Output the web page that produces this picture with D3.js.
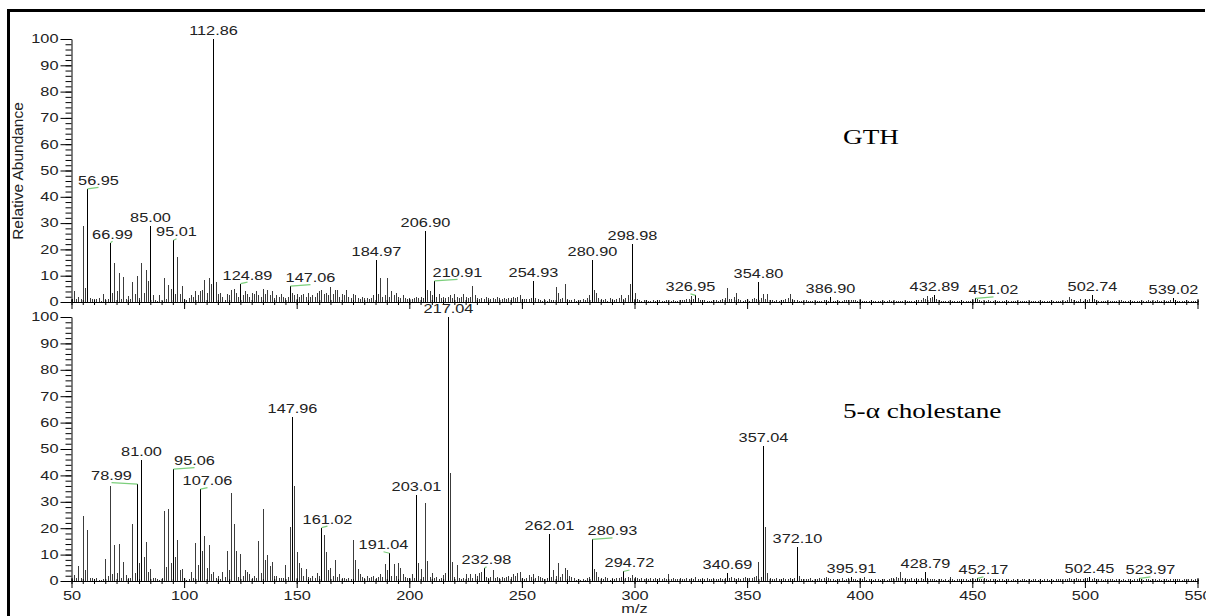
<!DOCTYPE html>
<html>
<head>
<meta charset="utf-8">
<script src="https://cdn.jsdelivr.net/npm/d3@7"></script>
<style>
  body { margin: 0; background: #fff; }
  svg { display: block; }
</style>
</head>
<body>
<div id="chart"></div>
<script>
// m/z axis runs in whole units from 50 to 550, one abundance per unit
var mzStart = 50;
var mzEnd = 550;

// GTH spectrum (relative abundance, %), m/z 50..550
var gthAbund = [
  1,4,1,2,1,29,5.5,43,1.5,1,
  1,1,1.5,0.5,3,1,1.2,22.5,3.5,15,
  4,11,1,9.5,1.2,2.2,1.2,7.5,3,10,
  1.5,15,3.5,12,8,29,2.5,0.8,0.5,2.5,
  0.5,9,1.2,6.5,5,23.5,3,17,3,6,
  1,0.8,1.5,2.5,2,4,2.5,4,4.5,8.5,
  3.5,9,7,100,7.5,3,3.5,2,0.8,3,
  2.5,4.5,5,3.5,2,7,2.5,4,3,2,
  3.5,3,4,2.5,2,5,3,4.5,2.5,4,
  1.5,2.5,2,3,2,1.5,2,6,3.5,2.5,
  3,2,2.5,3,2,3.5,2,2.5,2,3.5,
  4,4.5,3,3.5,2.5,5.7,3,4.5,4.5,2,
  3,2.5,4.5,2,1.5,3,2.5,1.5,1,2,
  1.5,1.5,1,1.5,2.5,16,3,9,2,2.5,
  9,2,4,2.5,3.5,2,1.5,2.5,1.5,1,
  1.5,1,1.5,2,1.5,2,1.5,27,4.5,4,
  2.5,8,2,3,1.5,2,1.5,2,2.5,1.5,
  3,2,1.5,2,3,2,1.5,2,6,2.5,
  1.5,1,1.5,1,2,1.5,1,1.5,1,2,
  1.5,1,1.5,1,1.5,1.5,2,1.5,2,2.5,
  1,1,1,1.2,1.5,8,1.5,1,0.6,0.5,
  1,0.5,1,0.7,0.8,5.8,3.6,1,1.5,6.7,
  1,0.8,0.6,1,0.5,0.5,0.8,1,0.6,1.5,
  2.5,16,4.6,3.4,1.5,1,0.8,1,0.5,1.5,
  1,0.6,1,1.5,2.8,1,1.5,2.8,7,22,
  3.4,1,0.8,0.5,0.6,0.6,0.4,0.5,0.6,0.4,
  0.5,0.6,0.4,0.5,0.6,0.5,0.4,0.6,0.5,0.5,
  0.7,0.6,0.8,1,1.2,2.4,1,2.5,1.5,0.8,
  0.5,0.6,0.4,0.5,0.5,0.6,0.8,0.5,0.6,1,
  1.5,5.5,1,1.2,2,3.6,1,0.8,0.5,0.6,
  0.7,0.5,1,1.5,1.2,7.6,1.5,3.1,1,3,
  0.8,0.6,0.5,0.6,0.5,0.7,0.8,1,1.5,3,
  1.2,0.8,0.6,0.5,0.4,0.5,0.6,0.4,0.5,0.3,
  0.4,0.5,0.3,0.4,0.6,0.5,0.4,1.8,0.5,0.3,
  0.4,0.3,0.5,0.6,0.7,0.6,0.8,0.7,0.6,0.5,
  0.6,0.5,0.4,0.3,0.4,0.3,0.4,0.5,0.3,0.4,
  0.3,0.4,0.5,0.8,0.4,0.3,0.4,0.3,0.5,0.4,
  0.3,0.4,0.3,0.5,0.4,0.6,0.8,0.6,1.5,1,
  2.2,1.5,2,2.5,1.2,0.6,0.4,0.5,0.3,0.4,
  0.3,0.4,0.3,0.5,0.4,0.3,0.4,0.3,0.3,0.4,
  0.5,1.4,1,0.6,0.4,0.5,0.3,0.8,0.4,0.3,
  0.4,0.3,0.4,0.3,0.5,0.3,0.4,0.3,0.3,0.4,
  0.3,0.4,0.3,0.3,0.4,0.3,0.4,0.3,0.4,0.3,
  0.3,0.4,0.3,0.4,0.3,0.3,0.4,0.3,0.4,0.3,
  0.4,0.5,0.6,1.8,1,0.6,0.4,0.5,1,0.5,
  0.4,0.6,1.2,2.8,1,0.5,0.4,0.3,0.4,0.3,
  0.3,0.4,0.3,0.4,0.3,0.4,0.7,0.3,0.4,0.3,
  0.3,0.4,0.3,0.3,0.4,0.3,0.4,0.3,0.8,0.4,
  0.3,0.4,0.7,0.3,0.4,0.3,0.4,0.5,0.6,1.5,
  0.8,0.4,0.3,0.4,0.3,0.8,0.3,0.4,0.3,0.4,
  0.3
];

// 5-alpha cholestane spectrum, m/z 50..550
var cholAbund = [
  0.5,2.3,1,5.8,1,24.6,4.2,19.3,1,1.2,
  0.8,1,0.5,0.3,0.8,8.3,2,36,2.5,13.6,
  3,13.9,1,7.3,2.2,1,1,21.6,3,36.7,
  7,45.8,9.2,14.7,3.4,4.7,1,1.2,0.8,0.5,
  1,26.5,5.4,27.1,6.7,42.4,9.2,15.5,4.3,4.5,
  1,0.5,0.8,3.5,1,14.3,6,34.8,11.2,17.2,
  4.8,13.7,2.5,3.4,1,2,0.8,3.5,1.5,11.5,
  4,33.5,21.6,11.2,1.5,10.4,2,4.2,3.5,2.5,
  1,2,1,15.2,3,27.2,7.8,9.8,5.6,7.2,
  2,2,1,1.2,1,6.2,1.5,20.6,62.2,36.1,
  11.1,7,5,2,4.5,1.5,1,2,1,3,
  2,20.2,17.4,11.1,4,5,2,7.8,1.5,2.8,
  1,1,0.8,1,0.8,15.5,7.8,4.7,2.5,1.5,
  1,2,1,1.5,2,1,1.5,2.5,1.5,6.5,
  4.3,10.5,2,6.5,2,7,5,2.5,1.5,1,
  1,2.8,1,32.6,6.7,4.7,1.5,29.4,7.4,1.5,
  3,1,1.5,0.8,1.2,2.3,3,100,40.8,7.2,
  1.5,6.1,1,0.8,1.2,2.5,1,2.5,1,2.5,
  2,3,3.5,4.8,1.5,1,1.5,4.3,1,1.5,
  1,1.5,1,1.5,2,1.5,2.5,2,3,3.3,
  1,0.8,1,2.3,1.5,2.5,1,2,1.5,1,
  0.8,1,17.7,1.5,4.3,2,6.7,1.5,2.5,4.9,
  4,2,1.5,1,0.5,0.8,0.5,0.8,0.5,1,
  1.5,15.8,4.6,3.5,1.5,1,0.8,1.5,1,0.5,
  1,0.8,1.2,1,1.5,3.6,1,1.5,1,2.3,
  1.5,1,0.8,1.2,0.6,1,0.8,1.2,0.6,1,
  0.8,1,0.6,1.2,0.8,2.5,0.8,1,0.6,0.8,
  1,0.6,0.8,1.2,0.8,1,0.6,1.5,0.8,0.6,
  1,0.8,1.2,0.6,0.8,1,0.6,0.8,1.2,0.8,
  1,3.2,1.2,1.5,1,0.8,1.2,0.6,1,1.5,
  0.8,1.2,1,1.5,2,7.3,1.5,51,20.4,3.2,
  1,0.8,0.6,1,0.8,0.6,1,0.8,0.6,1,
  0.8,1,13,2,0.8,0.6,0.8,0.6,1,0.5,
  0.8,0.6,1,0.8,1.2,1.5,1,0.6,0.8,0.5,
  0.8,0.6,1,0.5,0.8,1,1.5,0.6,0.8,0.5,
  0.8,0.6,1.5,0.5,0.8,0.6,0.5,0.8,0.6,0.5,
  0.8,0.6,0.5,0.8,1,1.2,1.5,1,3.4,1,
  1.2,0.8,0.6,1,0.8,1.2,0.6,1,0.8,3.4,
  1,0.8,0.6,0.8,0.5,0.6,0.8,0.5,0.6,0.5,
  1.5,0.6,0.5,0.8,0.6,0.5,0.8,0.6,0.5,0.6,
  0.5,0.8,1,0.6,0.8,1,0.6,0.5,0.8,0.6,
  0.8,0.5,0.6,0.8,0.5,0.6,0.8,0.5,0.6,0.5,
  0.6,0.5,0.8,0.6,0.5,0.6,0.5,0.8,0.6,0.5,
  0.6,0.5,0.8,0.6,0.5,0.6,0.5,0.6,0.8,0.6,
  0.5,0.6,0.8,1,0.8,0.6,1,0.8,0.6,0.8,
  0.6,1,1.5,0.8,1,0.6,0.8,0.6,0.5,0.6,
  0.5,0.8,0.6,0.5,0.6,0.8,0.5,0.6,0.5,0.8,
  0.6,0.5,0.8,0.6,1,0.6,0.5,0.8,0.6,0.5,
  0.6,0.8,0.5,0.6,0.5,0.8,0.6,0.5,0.6,0.8,
  0.5,0.6,0.8,0.5,0.6,0.5,0.8,0.6,0.5,0.6,
  0.5
];

// peak labels (text as printed on the spectrum)
var gthLabels = ["56.95","66.99","85.00","95.01","112.86","124.89","147.06","184.97",
  "206.90","210.91","254.93","280.90","298.98","326.95","354.80","386.90",
  "432.89","451.02","502.74","539.02"];
var cholLabels = ["78.99","81.00","95.06","107.06","147.96","161.02","191.04","203.01",
  "217.04","232.98","262.01","280.93","294.72","340.69","357.04","372.10",
  "395.91","428.79","452.17","502.45","523.97"];

var sampleNames = ["GTH", "5-\u03b1 cholestane"];
var xTicks = [50,100,150,200,250,300,350,400,450,500,550];
var yTicks = [0,10,20,30,40,50,60,70,80,90,100];

// label nudges (px) where the label sits beside its peak, joined by a green leader
var labelShift = {
  "56.95": 11, "66.99": 2, "95.01": 3, "124.89": 7, "147.06": 20, "210.91": 23,
  "326.95": -5, "451.02": 18,
  "78.99": -26, "95.06": 21, "107.06": 7, "161.02": 6, "191.04": -6, "232.98": 2,
  "280.93": 20, "294.72": 6, "452.17": 6, "523.97": 11
};

var SX = 1.36; // text in the original is stretched horizontally
var sans = "'Liberation Sans', Arial, sans-serif";
var serif = "'Liberation Serif', 'Times New Roman', serif";

var svgWidth = 1206, svgHeight = 616;
var svg = d3.select("#chart").append("svg")
  .attr("width", svgWidth)
  .attr("height", svgHeight);

// outer frame (left and top edges are the visible ones)
svg.append("path")
  .attr("d", "M8.5,616 L8.5,10.5 L1205,10.5")
  .attr("fill", "none").attr("stroke", "#000").attr("stroke-width", 3);

var x = d3.scaleLinear().domain([mzStart, mzEnd]).range([71.5, 1197.5]);

var panels = [
  { abund: gthAbund, labels: gthLabels, name: sampleNames[0], y: d3.scaleLinear().domain([0, 100]).range([302, 39]), showX: false, nameY: 144 },
  { abund: cholAbund, labels: cholLabels, name: sampleNames[1], y: d3.scaleLinear().domain([0, 100]).range([581, 317]), showX: true, nameY: 418 }
];

panels.forEach(function(p) {
  var g = svg.append("g");
  var y = p.y;
  var peaks = p.abund.map(function(v, i) { return { mz: mzStart + i, v: v }; });
  var labelled = {};
  p.labels.forEach(function(t) { labelled[Math.round(+t)] = true; });

  // sticks
  g.append("g").selectAll("line")
    .data(peaks)
    .enter()
    .append("line")
    .attr("x1", d => Math.round(x(d.mz)) + 0.5)
    .attr("x2", d => Math.round(x(d.mz)) + 0.5)
    .attr("y1", y(0))
    .attr("y2", d => y(d.v))
    .attr("stroke", d => labelled[d.mz] ? "#000" : "#3c3c3c")
    .attr("stroke-width", 1)
    .attr("shape-rendering", "crispEdges");

  // minor y ticks
  g.append("g")
    .attr("transform", "translate(71.5,0)")
    .call(d3.axisLeft(y).tickValues(d3.range(0, 101, 2)).tickSize(6).tickFormat(""))
    .call(a => a.select(".domain").remove());
  // major y ticks + labels
  var ya = g.append("g")
    .attr("transform", "translate(71.5,0)")
    .call(d3.axisLeft(y).tickValues(yTicks).tickSize(11).tickSizeOuter(0));
  ya.selectAll("text")
    .attr("x", -13 / SX)
    .attr("transform", "scale(" + SX + ",1)")
    .style("font-size", "12px")
    .style("font-family", sans)
    .attr("fill", "#222");
  ya.selectAll("line,path").attr("stroke", "#000");

  // x axis, minor ticks every 5
  var xm = g.append("g")
    .attr("transform", "translate(0," + y(0) + ")")
    .call(d3.axisBottom(x).tickValues(d3.range(mzStart, mzEnd + 1, 5)).tickSize(3).tickFormat("").tickSizeOuter(0));
  xm.selectAll(".tick line").attr("y1", -2);
  xm.selectAll("line,path").attr("stroke", "#000");

  var xa = g.append("g")
    .attr("transform", "translate(0," + y(0) + ")")
    .call(d3.axisBottom(x).tickValues(xTicks).tickSize(7).tickSizeOuter(0)
      .tickFormat(p.showX ? d3.format("d") : ""));
  xa.selectAll(".tick line").attr("y1", -3);
  xa.select(".domain").remove();
  xa.selectAll("line").attr("stroke", "#000");
  xa.selectAll("text")
    .attr("y", 10)
    .attr("transform", "scale(" + SX + ",1)")
    .style("font-size", "12px")
    .style("font-family", sans)
    .attr("fill", "#222");

  // peak labels
  p.labels.forEach(function(t) {
    var mz = Math.round(+t);
    var v = p.abund[mz - mzStart];
    var px = Math.round(x(mz)) + 0.5;
    var top = y(v);
    var shift = labelShift[t] || 0;
    var lx = px + shift;
    if (shift !== 0) {
      g.append("line")
        .attr("x1", px).attr("y1", top)
        .attr("x2", lx).attr("y2", top - 1.5)
        .attr("stroke", "#7ccf7c").attr("stroke-width", 1.2);
    }
    g.append("text")
      .attr("transform", "translate(" + lx + "," + (top - 4) + ") scale(" + SX + ",1)")
      .attr("text-anchor", "middle")
      .style("font-size", "12px")
      .style("font-family", sans)
      .attr("fill", "#222")
      .text(t);
  });

  // sample name
  g.append("text")
    .attr("transform", "translate(843," + p.nameY + ") scale(" + SX + ",1)")
    .style("font-family", serif)
    .style("font-size", "20px")
    .attr("fill", "#000")
    .text(p.name);
});

// axis titles
svg.append("text")
  .attr("transform", "translate(23,171) rotate(-90) scale(1.29,1.25)")
  .attr("text-anchor", "middle")
  .style("font-size", "12px")
  .style("font-family", sans)
  .attr("fill", "#222")
  .text("Relative Abundance");

svg.append("text")
  .attr("transform", "translate(" + x(300) + ",613) scale(" + SX + ",1)")
  .attr("text-anchor", "middle")
  .style("font-size", "12px")
  .style("font-family", sans)
  .attr("fill", "#222")
  .text("m/z");
</script>
</body>
</html>
